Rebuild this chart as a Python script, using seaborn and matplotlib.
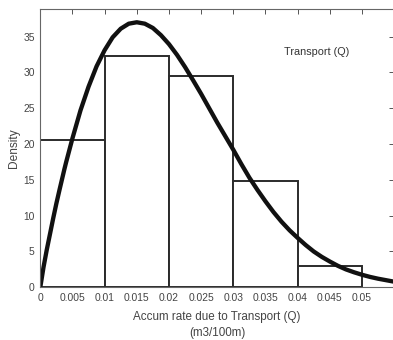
import matplotlib
matplotlib.use("Agg")
import matplotlib.pyplot as plt
import seaborn as sns
import pandas as pd

# Histogram of accumulation rate (density per 0.01 bin)
bin_edges = [0.0, 0.01, 0.02, 0.03, 0.04, 0.05]
bin_density = [20.6, 32.3, 29.5, 14.8, 3.0]

# Fitted density curve
curve_x = [0.0, 0.0005, 0.001, 0.0015, 0.002, 0.0025, 0.003, 0.00375, 0.004,
           0.005, 0.00625, 0.0075, 0.00875, 0.01, 0.01125, 0.0125, 0.01375,
           0.015, 0.01625, 0.0175, 0.01875, 0.02, 0.02125, 0.0225, 0.02375,
           0.025, 0.02625, 0.0275, 0.02875, 0.03, 0.03125, 0.0325, 0.03375,
           0.035, 0.03625, 0.0375, 0.03875, 0.04, 0.04125, 0.0425, 0.04375,
           0.045, 0.04625, 0.0475, 0.04875, 0.05, 0.05125, 0.0525, 0.0549]
curve_y = [0.0, 2.8, 5.2, 7.4, 9.6, 11.7, 13.65, 16.5, 17.4,
           20.8, 24.7, 28.0, 30.85, 33.1, 34.9, 36.1, 36.8,
           37.0, 36.8, 36.2, 35.2, 33.95, 32.45, 30.75, 28.9,
           27.0, 25.0, 23.0, 21.1, 19.2, 17.2, 15.3, 13.6,
           12.0, 10.5, 9.15, 7.95, 6.9, 5.9, 5.0, 4.25,
           3.6, 3.0, 2.5, 2.1, 1.75, 1.45, 1.2, 0.8]

x_ticks = [0, 0.005, 0.01, 0.015, 0.02, 0.025, 0.03, 0.035, 0.04, 0.045, 0.05]
x_tick_labels = ["0", "0.005", "0.01", "0.015", "0.02", "0.025", "0.03",
                 "0.035", "0.04", "0.045", "0.05"]
y_ticks = [0, 5, 10, 15, 20, 25, 30, 35]

sns.set_style("white")
plt.rcParams["font.family"] = ["Liberation Sans", "DejaVu Sans"]

fig = plt.figure(figsize=(3.93, 3.40), dpi=100)
# axes runs slightly past the right edge of the canvas
ax = fig.add_axes([0.1025, 0.155, 0.8988, 0.8185])

centers = [(a + b) / 2 for a, b in zip(bin_edges[:-1], bin_edges[1:])]
hist_df = pd.DataFrame({"x": centers, "w": bin_density})
sns.histplot(data=hist_df, x="x", weights="w", bins=bin_edges, stat="count",
             color="white", edgecolor="#2b2b2b", linewidth=1.4, alpha=1.0,
             ax=ax)

curve_df = pd.DataFrame({"x": curve_x, "y": curve_y})
sns.lineplot(data=curve_df, x="x", y="y", color="#111111", linewidth=3.1,
             ax=ax, sort=False, solid_joinstyle="round",
             solid_capstyle="round")

ax.set_xlim(0, 0.0549)
ax.set_ylim(0, 38.85)
ax.set_xticks(x_ticks)
ax.set_xticklabels(x_tick_labels)
ax.set_yticks(y_ticks)

ink = "#444444"
ax.tick_params(direction="in", length=3.5, width=0.7, colors="#555555",
               labelcolor=ink, labelsize=7.4, top=True, right=True, pad=4)
for s in ax.spines.values():
    s.set_visible(True)
    s.set_color("#666666")
    s.set_linewidth(0.8)

ax.set_xlabel("Accum rate due to Transport (Q)\n(m3/100m)", fontsize=8.4,
              color=ink, labelpad=6, linespacing=1.45)
ax.set_ylabel("Density", fontsize=8.6, color=ink, labelpad=2)

ax.text(0.0379, 32.9, "Transport (Q)", fontsize=7.8, color="#333333",
        ha="left", va="center")

fig.savefig("out.png", dpi=100)
